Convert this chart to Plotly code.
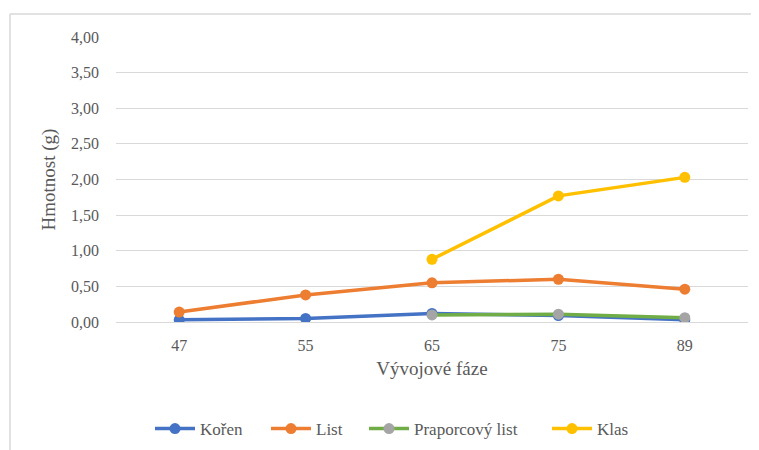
import plotly.graph_objects as go

categories = ["47", "55", "65", "75", "89"]
koren = [0.03, 0.05, 0.12, 0.09, 0.03]
list_ = [0.14, 0.38, 0.55, 0.60, 0.46]
praporcovy = [None, None, 0.10, 0.11, 0.06]
klas = [None, None, 0.88, 1.77, 2.03]
y_ticks = [0, 0.5, 1, 1.5, 2, 2.5, 3, 3.5, 4]

FONT = "Times New Roman, Liberation Serif, Tinos, serif"
GREY = "#595959"

# page body has an 8px margin, so the figure is drawn 8px in from the top-left
OFF = 8
W, H = 759 - OFF, 450 - OFF
L, R, T, B = 116 - OFF, 11, 37 - OFF, 128
pw = W - L - R
ph = H - T - B

def px_x(sx):
    return (sx - OFF - L) / pw

def px_y(sy):
    return 1 - (sy - OFF - T) / ph

fig = go.Figure()

series = [
    ("Kořen", koren, "#4472C4", "#4472C4", "legend", 150),
    ("List", list_, "#ED7D31", "#ED7D31", "legend2", 266),
    ("Praporcový list", praporcovy, "#70AD47", "#A5A5A5", "legend3", 364),
    ("Klas", klas, "#FFC000", "#FFC000", "legend4", 547),
]

legends = {}
for name, vals, lc, mc, lg, lx in series:
    fig.add_trace(go.Scatter(
        x=categories, y=vals, name=name, mode="lines+markers",
        line=dict(color=lc, width=3.5),
        marker=dict(color=mc, size=11, line=dict(width=0)),
        connectgaps=False, legend=lg,
    ))
    legends[lg] = dict(orientation="h", x=px_x(lx), xanchor="left", y=px_y(429),
                       yanchor="middle", font=dict(family=FONT, size=17, color=GREY),
                       bgcolor="rgba(0,0,0,0)", itemwidth=40)

fig.update_layout(
    width=W, height=H,
    margin=dict(l=L, r=R, t=T, b=B, autoexpand=False),
    paper_bgcolor="white", plot_bgcolor="white",
    separators=", ",
    font=dict(family=FONT, size=16, color=GREY),
    showlegend=True,
    **legends,
    xaxis=dict(
        type="category", showgrid=False, zeroline=False, showline=False,
        ticks="", tickfont=dict(family=FONT, size=16, color=GREY),
        ticklabelstandoff=12,
        title=dict(text="Vývojové fáze", font=dict(family=FONT, size=19, color=GREY), standoff=8),
        range=[-0.5, 4.5],
    ),
    yaxis=dict(
        range=[0, 4], tickvals=y_ticks, tickformat=".2f",
        showgrid=True, gridcolor="#D9D9D9", gridwidth=1.3,
        zeroline=True, zerolinecolor="#D9D9D9", zerolinewidth=1.3,
        showline=False, ticks="", tickfont=dict(family=FONT, size=16, color=GREY),
        ticklabelstandoff=16,
        title=dict(text="Hmotnost (g)", font=dict(family=FONT, size=19, color=GREY), standoff=10),
    ),
)

# chart-area border (top and left edges visible in the reference)
x_left = px_x(10)
y_top = px_y(14)
fig.add_shape(type="line", xref="paper", yref="paper", x0=x_left, x1=px_x(780),
              y0=y_top, y1=y_top, line=dict(color="#D9D9D9", width=1.5))
fig.add_shape(type="line", xref="paper", yref="paper", x0=x_left, x1=x_left,
              y0=y_top, y1=px_y(470), line=dict(color="#D9D9D9", width=1.5))

fig.write_html("out.html")
